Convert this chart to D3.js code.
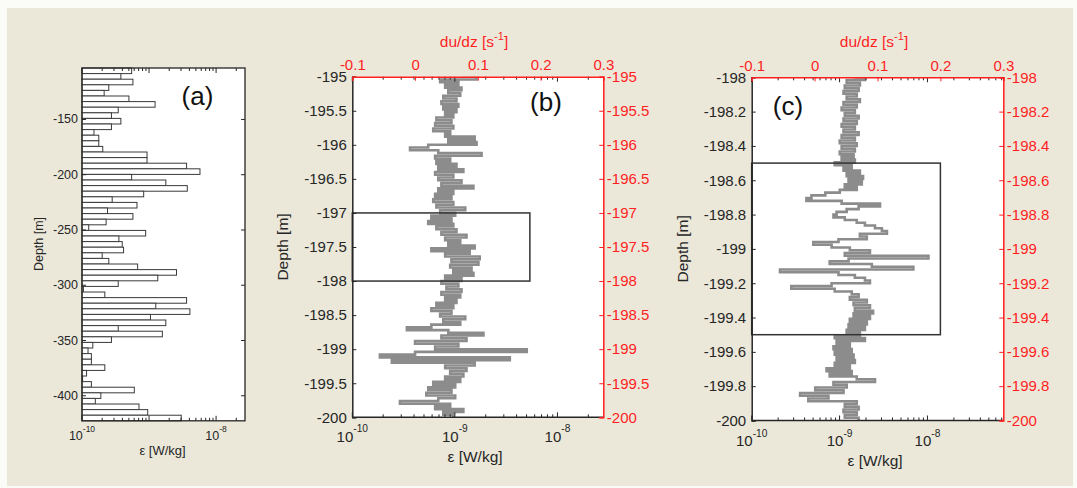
<!DOCTYPE html>
<html><head><meta charset="utf-8">
<script src="https://cdn.jsdelivr.net/npm/d3@7"></script>
<style>body{margin:0;background:#fff}svg{display:block}text{font-family:"Liberation Sans",Arial,sans-serif}</style>
</head><body><svg id="chart" width="1077" height="488"></svg>
<script>
// ---------------- data ----------------
// (a) dissipation profile, 63 depth bins from the top bin down
const binTopA = -103.9, binSizeA = 5.067;
const epsA = [5.5e-10,3.8e-10,5.75e-10,2.51e-10,2.14e-10,5.01e-10,1.23e-9,3.47e-10,2.75e-10,3.8e-10,
2.75e-10,1.51e-10,1.78e-10,1.78e-10,2.04e-10,9.33e-10,9.33e-10,3.63e-9,5.75e-9,5.5e-10,
1.78e-9,3.72e-9,8.32e-10,2.82e-10,6.61e-10,2.4e-10,5.75e-10,2.29e-10,1.26e-10,8.91e-10,
3.55e-10,3.98e-10,4.17e-10,2.0e-10,2.51e-10,6.76e-10,2.57e-9,1.35e-9,3.47e-10,1.05e-10,
2.19e-10,3.63e-9,1.26e-9,4.07e-9,1.05e-9,1.78e-9,3.47e-10,1.58e-9,2.75e-10,1.45e-10,
1.23e-10,1.38e-10,1.38e-10,2.19e-10,1.17e-10,1.02e-10,1.38e-10,6.03e-10,1.91e-10,1.58e-10,
7.08e-10,9.55e-10,3.02e-9];
const yTicksA = [-150,-200,-250,-300,-350,-400];
const xExpA = [-10,-8];

// (b) shear profile -195 .. -200 m
const depthB = d3.range(126).map(i => -195 - i * 0.04);
const shearB = [0.074,0.098,0.040,0.069,0.048,0.074,0.053,0.072,0.045,0.066,
0.042,0.069,0.045,0.066,0.048,0.061,0.034,0.058,0.032,0.061,
0.029,0.056,0.048,0.095,0.053,0.098,0.021,-0.008,0.037,0.106,
0.032,0.056,0.034,0.066,0.037,0.077,0.032,0.061,0.037,0.074,
0.042,0.093,0.037,0.061,0.032,0.058,0.029,0.061,0.034,0.080,
0.040,0.064,0.026,0.058,0.021,0.061,0.034,0.066,0.042,0.082,
0.048,0.072,0.053,0.095,0.026,0.087,0.048,0.103,0.058,0.101,
0.056,0.090,0.061,0.093,0.048,0.074,0.042,0.069,0.050,0.074,
0.042,0.072,0.048,0.066,0.034,0.061,0.026,0.058,0.040,0.080,
0.045,0.072,0.026,-0.013,0.053,0.109,0.042,0.082,0.000,0.069,
0.032,0.178,0.000,-0.056,0.151,-0.037,0.095,0.048,0.082,0.056,
0.077,0.048,0.072,0.029,0.064,0.021,0.058,0.018,0.064,0.037,
-0.024,0.056,0.032,0.077,0.045,0.061];
const yTicksB = [-195,-195.5,-196,-196.5,-197,-197.5,-198,-198.5,-199,-199.5,-200];
const boxB = [-197, -198, 0.183];

// (c) shear profile -198 .. -200 m
const depthC = d3.range(126).map(i => -198 - i * 0.016);
const shearC = [0.062,0.080,0.051,0.072,0.048,0.070,0.046,0.067,0.051,0.072,
0.046,0.067,0.043,0.064,0.048,0.070,0.046,0.067,0.043,0.064,
0.046,0.070,0.043,0.064,0.040,0.067,0.043,0.064,0.040,0.062,
0.043,0.064,0.032,0.059,0.046,0.072,0.051,0.077,0.054,0.075,
0.048,0.067,0.040,0.017,-0.005,-0.013,0.043,0.104,0.070,0.051,
0.035,0.030,0.048,0.067,0.080,0.096,0.107,0.115,0.072,0.083,
0.038,-0.002,0.027,0.056,0.088,0.048,0.181,0.054,0.024,0.091,
0.157,-0.055,0.038,0.064,0.080,0.088,0.027,-0.037,0.032,0.059,
0.070,0.056,0.083,0.062,0.088,0.064,0.093,0.062,0.088,0.056,
0.083,0.054,0.080,0.051,0.072,0.032,0.080,0.035,0.056,0.030,
0.059,0.032,0.062,0.035,0.064,0.032,0.056,0.019,0.059,0.024,
0.067,0.096,0.030,0.051,0.001,0.046,-0.023,0.022,-0.010,0.067,
0.048,0.070,0.046,0.067,0.048,0.070];
const yTicksC = [-198,-198.2,-198.4,-198.6,-198.8,-199,-199.2,-199.4,-199.6,-199.8,-200];
const boxC = [-198.5, -199.5, 0.2];

const shearTicks = [-0.1, 0, 0.1, 0.2, 0.3];
const xExpBC = [-10, -9, -8];

// ---------------- drawing ----------------
const INK = '#262626', RED = '#ff1f1f', GRAY = '#8c8c8c';
const fmt = d => String(d);
const svg = d3.select('#chart');
svg.append('rect').attr('width', 1077).attr('height', 488).attr('fill', '#fbfbf8');
svg.append('rect').attr('x', 7).attr('y', 8).attr('width', 1066).attr('height', 478).attr('fill', '#ebe8da');

function minorTicks(x) {
  const [a, b] = x.domain(); const out = [];
  for (let e = -10; e <= -7; e++) for (let m = 1; m <= 9; m++) {
    const v = m * Math.pow(10, e);
    if (v >= a * 0.999 && v <= b) out.push({v, major: m === 1});
  }
  return out;
}

function logLabels(g, x, exps, y, fs) {
  exps.forEach(e => {
    const t = g.append('text').attr('x', x(Math.pow(10, e))).attr('y', y)
      .attr('text-anchor', 'middle').attr('fill', INK).attr('font-size', fs);
    t.append('tspan').text('10');
    t.append('tspan').attr('font-size', fs * 0.68).attr('dy', -fs * 0.62).text(String(e));
  });
}

function logFrameTicks(g, x, x0, x1, y0, y1) {
  minorTicks(x).forEach(t => {
    const L = t.major ? 5 : 3;
    g.append('line').attr('x1', x(t.v)).attr('x2', x(t.v)).attr('y1', y1).attr('y2', y1 - L).attr('stroke', INK);
    g.append('line').attr('x1', x(t.v)).attr('x2', x(t.v)).attr('y1', y0).attr('y2', y0 + L).attr('stroke', INK);
  });
}

// ---- panel (a)
(function () {
  const x0 = 82, x1 = 245, y0 = 68, y1 = 420.8;
  const x = d3.scaleLog().domain([1e-10, 2.7e-8]).range([x0, x1]);
  const y = d3.scaleLinear().domain([-423.1, -103.9]).range([y1, y0]);
  const g = svg.append('g');
  g.append('rect').attr('x', x0).attr('y', y0).attr('width', x1 - x0).attr('height', y1 - y0).attr('fill', '#fff');
  g.selectAll('.bar').data(epsA).join('rect')
    .attr('x', x0)
    .attr('y', (d, i) => y(binTopA - i * binSizeA))
    .attr('width', d => x(d) - x0)
    .attr('height', (d, i) => y(binTopA - (i + 1) * binSizeA) - y(binTopA - i * binSizeA))
    .attr('fill', '#fff').attr('stroke', '#3a3a3a').attr('stroke-width', 1);
  logFrameTicks(g, x, x0, x1, y0, y1);
  g.append('g').attr('transform', `translate(${x0},0)`)
    .call(d3.axisLeft(y).tickValues(yTicksA).tickSize(-4).tickPadding(4).tickFormat(fmt))
    .call(s => s.select('.domain').remove())
    .call(s => s.selectAll('line').attr('stroke', INK))
    .call(s => s.selectAll('text').attr('fill', INK).attr('font-size', 12.5).attr('font-family', null));
  g.append('g').attr('transform', `translate(${x1},0)`)
    .call(d3.axisRight(y).tickValues(yTicksA).tickSize(-4).tickFormat(''))
    .call(s => s.select('.domain').remove())
    .call(s => s.selectAll('line').attr('stroke', INK));
  g.append('rect').attr('x', x0).attr('y', y0).attr('width', x1 - x0).attr('height', y1 - y0)
    .attr('fill', 'none').attr('stroke', INK).attr('stroke-width', 1.3);
  logLabels(g, x, xExpA, 440, 12.5);
  g.append('text').attr('x', 162.5).attr('y', 455).attr('text-anchor', 'middle')
    .attr('font-size', 13).attr('fill', INK).text('ε [W/kg]');
  g.append('text').attr('transform', 'translate(43,244) rotate(-90)').attr('text-anchor', 'middle')
    .attr('font-size', 12.5).attr('fill', INK).text('Depth [m]');
  g.append('text').attr('x', 197.5).attr('y', 105).attr('text-anchor', 'middle')
    .attr('font-size', 26).attr('fill', '#111').text('(a)');
})();

// ---- panels (b), (c)
function profilePanel(o) {
  const {x0, x1, y0, y1} = o;
  const xe = d3.scaleLog().domain([1e-10, o.epsMax]).range([x0, x1]);
  const xs = d3.scaleLinear().domain([-0.1, 0.3]).range([x0, x1]);
  const y = d3.scaleLinear().domain(o.yDomain).range([y1, y0]);
  const g = svg.append('g');
  const cid = 'clip' + o.name;
  g.append('clipPath').attr('id', cid).append('rect').attr('x', x0).attr('y', y0).attr('width', x1 - x0).attr('height', y1 - y0);
  g.append('rect').attr('x', x0).attr('y', y0).attr('width', x1 - x0).attr('height', y1 - y0).attr('fill', '#fff');
  const pts = o.depth.map((d, i) => ({d, v: o.shear[i]}));
  g.append('path').datum(pts).attr('clip-path', `url(#${cid})`)
    .attr('d', d3.line().x(p => xs(p.v)).y(p => y(p.d)).curve(d3.curveStepAfter))
    .attr('fill', 'none').attr('stroke', GRAY).attr('stroke-width', 2.6).attr('stroke-linejoin', 'miter');
  // box
  g.append('rect').attr('x', x0).attr('y', y(o.box[0])).attr('width', xs(o.box[2]) - x0)
    .attr('height', y(o.box[1]) - y(o.box[0])).attr('fill', 'none').attr('stroke', '#333').attr('stroke-width', 1.5);
  logFrameTicks(g, xe, x0, x1, y0, y1);
  // left axis (black)
  g.append('g').attr('transform', `translate(${x0},0)`)
    .call(d3.axisLeft(y).tickValues(o.yTicks).tickSize(-4).tickPadding(5.5).tickFormat(fmt))
    .call(s => s.select('.domain').attr('stroke', INK).attr('stroke-width', 1.5))
    .call(s => s.selectAll('line').attr('stroke', INK))
    .call(s => s.selectAll('text').attr('fill', INK).attr('font-size', 15).attr('font-family', null));
  // bottom line
  g.append('line').attr('x1', x0).attr('x2', x1).attr('y1', y1).attr('y2', y1).attr('stroke', INK).attr('stroke-width', 1.5);
  // top axis (red)
  g.append('g').attr('transform', `translate(0,${y0})`)
    .call(d3.axisTop(xs).tickValues(shearTicks).tickSize(-4).tickPadding(6.8).tickFormat(fmt))
    .call(s => s.select('.domain').attr('stroke', RED).attr('stroke-width', 1.5))
    .call(s => s.selectAll('line').attr('stroke', RED))
    .call(s => s.selectAll('text').attr('fill', RED).attr('font-size', 15).attr('font-family', null));
  // right axis (red)
  g.append('g').attr('transform', `translate(${x1},0)`)
    .call(d3.axisRight(y).tickValues(o.yTicks).tickSize(-4).tickPadding(3.5).tickFormat(fmt))
    .call(s => s.select('.domain').attr('stroke', RED).attr('stroke-width', 1.5))
    .call(s => s.selectAll('line').attr('stroke', RED))
    .call(s => s.selectAll('text').attr('fill', RED).attr('font-size', 15).attr('font-family', null));
  logLabels(g, xe, xExpBC, y1 + o.labGap, 15);
  g.append('text').attr('x', o.epsX).attr('y', o.epsY).attr('text-anchor', 'middle')
    .attr('font-size', 15.5).attr('fill', INK).text('ε [W/kg]');
  const t = g.append('text').attr('x', o.shX).attr('y', 46.7).attr('text-anchor', 'middle')
    .attr('font-size', 15.5).attr('fill', RED);
  t.append('tspan').text('du/dz [s');
  t.append('tspan').attr('font-size', 11).attr('dy', -7).text('-1');
  t.append('tspan').attr('dy', 7).text(']');
  g.append('text').attr('transform', `translate(${o.depX},${(y0 + y1) / 2}) rotate(-90)`).attr('text-anchor', 'middle')
    .attr('font-size', 15.5).attr('fill', INK).text('Depth [m]');
  g.append('text').attr('x', o.tagX).attr('y', o.tagY).attr('text-anchor', 'middle')
    .attr('font-size', 26).attr('fill', '#111').text(o.tag);
}

profilePanel({name: 'b', x0: 352.3, x1: 603.3, y0: 76.7, y1: 417.3, epsMax: 2.8e-8,
  yDomain: [-200, -195], yTicks: yTicksB, depth: depthB, shear: shearB, box: boxB,
  labGap: 24.4, epsX: 475, epsY: 462, shX: 474, depX: 288, tag: '(b)', tagX: 546, tagY: 111});
profilePanel({name: 'c', x0: 751.7, x1: 1003.3, y0: 77.3, y1: 420.5, epsMax: 7.3e-8,
  yDomain: [-200, -198], yTicks: yTicksC, depth: depthC, shear: shearC, box: boxC,
  labGap: 25.5, epsX: 875, epsY: 466, shX: 874, depX: 688, tag: '(c)', tagX: 788, tagY: 115});
</script></body></html>
